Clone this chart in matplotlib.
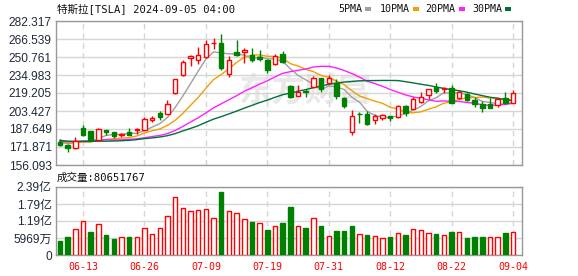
import matplotlib
matplotlib.use('Agg')
import matplotlib.pyplot as plt
import numpy as np
import pandas as pd
from matplotlib.patches import Rectangle

# ---------------- data ----------------
dates = ['06-10', '06-11', '06-12', '06-13', '06-14', '06-17', '06-18', '06-20', '06-21', '06-24',
         '06-25', '06-26', '06-27', '06-28', '07-01', '07-02', '07-03', '07-05', '07-08', '07-09',
         '07-10', '07-11', '07-12', '07-15', '07-16', '07-17', '07-18', '07-19', '07-22', '07-23',
         '07-24', '07-25', '07-26', '07-29', '07-30', '07-31', '08-01', '08-02', '08-05', '08-06',
         '08-07', '08-08', '08-09', '08-12', '08-13', '08-14', '08-15', '08-16', '08-19', '08-20',
         '08-21', '08-22', '08-23', '08-26', '08-27', '08-28', '08-29', '08-30', '09-03', '09-04']
opens = [176.06, 173.92, 171.12, 188.39, 185.80, 177.92, 186.56, 184.68, 182.30, 184.97,
         186.54, 186.92, 195.17, 201.25, 201.02, 218.89, 234.56, 249.81, 247.71, 251.00,
         262.80, 263.30, 235.80, 255.31, 255.31, 252.73, 251.09, 247.79, 244.21, 253.60,
         225.42, 216.80, 221.19, 224.90, 232.25, 227.90, 227.69, 214.88, 185.22, 200.75,
         200.77, 195.70, 197.05, 199.02, 198.47, 207.39, 205.02, 211.15, 217.07, 224.88,
         222.67, 223.82, 214.46, 218.75, 213.25, 209.72, 209.80, 208.63, 215.26, 210.59]
highs = [178.57, 174.75, 180.55, 191.08, 186.00, 188.81, 187.20, 185.21, 183.95, 188.80,
         188.50, 197.76, 198.72, 203.20, 213.23, 231.30, 248.35, 252.37, 259.44, 265.61,
         267.59, 271.00, 251.84, 265.60, 258.62, 258.47, 257.14, 249.44, 253.21, 255.76,
         225.99, 226.00, 222.28, 234.27, 232.41, 234.68, 231.87, 216.13, 203.88, 202.90,
         203.49, 200.70, 200.88, 199.26, 208.49, 208.44, 215.88, 219.80, 222.98, 228.22,
         224.66, 225.88, 221.48, 219.09, 215.66, 211.84, 214.89, 214.57, 219.90, 222.22]
lows = [173.17, 167.41, 169.80, 181.23, 176.92, 177.00, 182.37, 179.66, 180.69, 182.68,
        183.28, 186.36, 194.05, 195.26, 200.85, 218.06, 234.25, 242.46, 244.57, 250.30,
        257.86, 239.65, 233.09, 251.73, 245.80, 246.18, 247.20, 236.83, 243.75, 245.63,
        214.71, 216.23, 215.33, 224.70, 220.00, 226.79, 214.33, 205.78, 182.00, 192.67,
        191.48, 192.04, 195.11, 194.67, 197.06, 198.75, 204.82, 210.80, 214.09, 219.56,
        218.86, 210.03, 214.21, 212.11, 206.94, 202.59, 205.97, 207.03, 209.64, 210.57]
closes = [173.79, 170.66, 177.29, 182.47, 178.01, 187.44, 184.86, 181.57, 183.01, 182.58,
          187.35, 196.37, 197.42, 197.88, 209.86, 231.26, 246.39, 251.52, 252.94, 262.33,
          263.26, 241.03, 248.23, 252.64, 256.56, 248.50, 249.23, 239.20, 251.51, 246.38,
          215.99, 220.25, 219.80, 232.10, 222.62, 232.07, 216.86, 207.67, 198.88, 200.64,
          191.76, 198.84, 200.00, 197.49, 207.83, 201.38, 214.14, 216.12, 222.72, 221.10,
          223.27, 210.66, 220.32, 213.21, 209.21, 205.75, 206.28, 214.11, 210.60, 219.41]
volumes = [50.87, 64.76, 90.07, 118.98, 82.04, 109.79, 68.98, 55.89, 63.03, 61.99,
           63.68, 95.74, 72.75, 95.44, 135.69, 205.05, 166.56, 154.50, 157.22, 160.21,
           128.52, 221.71, 155.96, 146.91, 126.33, 115.63, 110.87, 87.40, 101.23, 111.93,
           167.94, 100.64, 94.60, 129.20, 100.56, 67.50, 83.86, 82.88, 100.31, 73.78,
           71.16, 65.03, 58.65, 64.04, 76.25, 70.25, 89.85, 88.77, 76.44, 74.00,
           70.15, 79.51, 81.53, 59.30, 62.82, 64.12, 62.31, 63.37, 76.71, 80.65]  # millions
# closes of the 29 sessions before the first candle (feed the moving averages)
prior_closes = [194.05, 183.28, 179.99, 180.01, 181.19, 184.76, 177.81, 174.72, 171.97, 168.47,
                171.89, 177.55, 173.99, 174.84, 177.46, 174.95, 186.60, 180.11, 173.74, 179.24,
                176.75, 176.19, 178.79, 178.08, 176.29, 174.77, 175.00, 177.94, 177.48]

price_ticks = [156.093, 171.871, 187.649, 203.427, 219.205, 234.983, 250.761, 266.539, 282.317]
vol_ticks = [0, 59.69, 119.38, 179.07, 238.76]
vol_tick_labels = ['0', '5969万', '1.19亿', '1.79亿', '2.39亿']
xtick_dates = ['06-13', '06-26', '07-09', '07-19', '07-31', '08-12', '08-22', '09-04']
ma_periods = [5, 10, 20, 30]
ma_names = ['5PMA', '10PMA', '20PMA', '30PMA']
title = '特斯拉[TSLA] 2024-09-05 04:00'
vol_title = '成交量:80651767'

# ---------------- styles ----------------
RED = '#ff0000'
GREEN = '#008000'
ma_colors = ['#a0a0a0', '#f0a000', '#ff20ff', '#00703a']
GRID = '#d6d6d6'
SPINE = '#999999'
LABEL = '#1e2a3a'

W, H = 578, 276
fig = plt.figure(figsize=(W / 100, H / 100), dpi=100)


def rect(l, t, r, b):
    return [l / W, 1 - b / H, (r - l) / W, (b - t) / H]


axp = fig.add_axes(rect(56, 21, 522, 165))
axv = fig.add_axes(rect(56, 187, 522, 255))

n = len(dates)
x = np.arange(n)
o = np.array(opens); c = np.array(closes); hi = np.array(highs); lo = np.array(lows)
up = c >= o

# moving averages
allc = pd.Series(prior_closes + closes)
for p, col in zip(ma_periods, ma_colors):
    ma = allc.rolling(p).mean().values[len(prior_closes):]
    axp.plot(x, ma, color=col, lw=1.0, zorder=3)

# candles
bw = 0.58
cols = np.where(up, RED, GREEN)
axp.vlines(x, lo, hi, colors=cols, lw=1.0, zorder=4)
bottoms = np.minimum(o, c)
heights = np.maximum(np.abs(c - o), 0.35)
axp.bar(x[up], heights[up], bw, bottom=bottoms[up], facecolor='white', edgecolor=RED, lw=1.0, zorder=5)
axp.bar(x[~up], heights[~up], bw, bottom=bottoms[~up], facecolor=GREEN, edgecolor=GREEN, lw=1.0, zorder=5)

# volume bars (colour by change vs previous close)
prev = np.array([prior_closes[-1]] + closes[:-1])
vup = c >= prev
v = np.array(volumes)
axv.bar(x[vup], v[vup], bw, facecolor='white', edgecolor=RED, lw=1.0, zorder=3)
axv.bar(x[~vup], v[~vup], bw, facecolor=GREEN, edgecolor=GREEN, lw=1.0, zorder=3)

xt = [dates.index(d) for d in xtick_dates]
for ax in (axp, axv):
    ax.set_xlim(-0.52, n - 1 + 1.17)
    for xi in xt:
        ax.axvline(xi, color=GRID, lw=1.0, ls=(0, (4, 3)), zorder=1)
    for s in ax.spines.values():
        s.set_color(SPINE)
        s.set_linewidth(1.0)
    ax.tick_params(length=0)

axp.set_ylim(price_ticks[0], price_ticks[-1])
axp.set_yticks(price_ticks)
axp.set_yticklabels(['%.3f' % t for t in price_ticks], family='Liberation Sans', fontsize=8.6, color=LABEL)
axp.grid(axis='y', color=GRID, lw=1.0, zorder=1)
axp.set_xticks([])
axp.tick_params(axis='y', pad=3)

axv.set_ylim(0, vol_ticks[-1])
axv.set_yticks(vol_ticks)
axv.set_yticklabels(vol_tick_labels, family=['Liberation Sans', 'Noto Sans CJK SC'], fontsize=8.6, color=LABEL)
axv.grid(axis='y', color=GRID, lw=1.0, zorder=1)
axv.set_xticks(xt)
axv.set_xticklabels(xtick_dates, family='DejaVu Sans Mono', fontsize=7.2, color=RED)
axv.tick_params(axis='x', pad=5)
axv.tick_params(axis='y', pad=3)

# watermark
axp.text(305 / W, 1 - 92 / H, '东方财富', transform=fig.transFigure, ha='center', va='center',
         fontsize=24, color='#e8e8e8', family='Noto Sans CJK SC', weight='bold', zorder=0.5)

# header texts
fig.text(57 / W, 1 - 10 / H, title, family=['DejaVu Sans Mono', 'Noto Sans CJK SC'], fontsize=7.6,
         color='#111111', ha='left', va='center')
fig.text(57 / W, 1 - 177.5 / H, vol_title, family=['DejaVu Sans Mono', 'Noto Sans CJK SC'], fontsize=7.6,
         color='#111111', ha='left', va='center')

leg_x = [338, 380, 425, 472]
sq_x = [365, 413, 459, 505]
for name, col, tx, sx in zip(ma_names, ma_colors, leg_x, sq_x):
    fig.text(tx / W, 1 - 8.8 / H, name, family='DejaVu Sans Mono', fontsize=7.2, color='#111111',
             ha='left', va='center')
    fig.patches.append(Rectangle((sx / W, 1 - 10.5 / H), 6 / W, 3.2 / H, transform=fig.transFigure,
                                 facecolor=col, edgecolor='none', figure=fig))

fig.savefig('out.png', dpi=100)
